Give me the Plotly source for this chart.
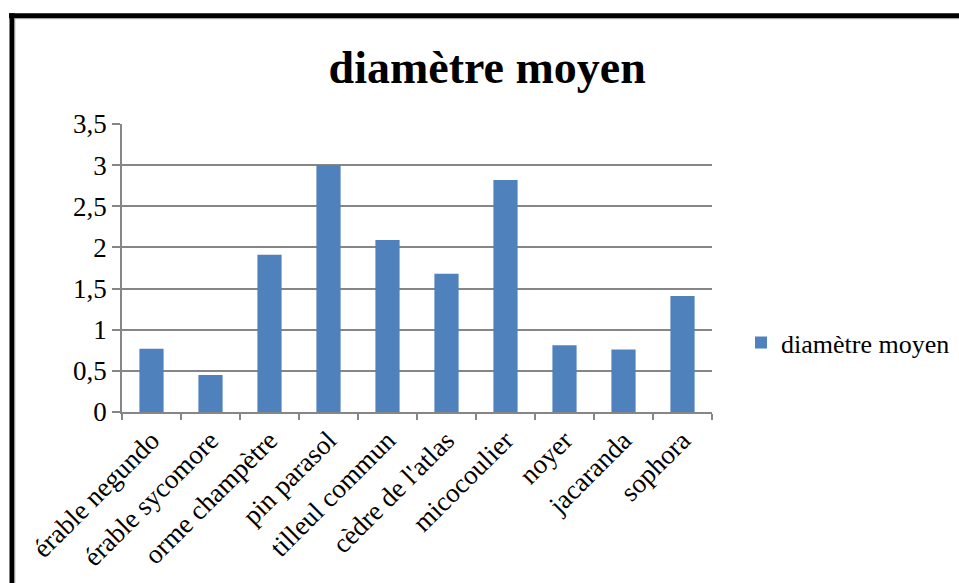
import plotly.graph_objects as go

categories = ["érable negundo", "érable sycomore", "orme champètre", "pin parasol",
              "tilleul commun", "cèdre de l'atlas", "micocoulier", "noyer",
              "jacaranda", "sophora"]
values = [0.77, 0.45, 1.91, 3.0, 2.09, 1.68, 2.82, 0.81, 0.76, 1.41]
series_name = "diamètre moyen"
y_tickvals = [0, 0.5, 1, 1.5, 2, 2.5, 3, 3.5]
y_ticktext = ["0", "0,5", "1", "1,5", "2", "2,5", "3", "3,5"]

W, H = 959, 583
L, R, T, B = 122, 712, 124, 412.5
pw, ph = R - L, B - T

def px_x(p):
    return (p - L) / pw

def px_y(p):
    return (B - p) / ph

FONT = "Liberation Serif, serif"
GRID = "#868686"

fig = go.Figure()
fig.add_trace(go.Bar(x=categories, y=values, name=series_name,
                     marker=dict(color="#4F81BD", line=dict(width=0)),
                     showlegend=True))

fig.update_layout(
    width=W, height=H,
    margin=dict(l=L, r=W - R, t=T, b=H - B, pad=0, autoexpand=False),
    paper_bgcolor="white", plot_bgcolor="white",
    font=dict(family=FONT, size=27, color="black"),
    bargap=0.59,
    title=dict(text="<b>diamètre moyen</b>", x=0.508, xanchor="center",
               y=0.885, yanchor="middle", yref="container",
               font=dict(family=FONT, size=46, color="black")),
    showlegend=True,
    legend=dict(x=px_x(741), xanchor="left", y=px_y(343), yanchor="middle",
                font=dict(family=FONT, size=26, color="black"),
                bgcolor="rgba(0,0,0,0)", borderwidth=0),
    xaxis=dict(type="category", tickangle=-45, tickson="boundaries",
               ticks="outside", ticklen=6, tickcolor=GRID, tickwidth=1.5,
               showline=True, linecolor=GRID, linewidth=1.5,
               showgrid=False, tickfont=dict(family=FONT, size=27)),
    yaxis=dict(range=[0, 3.5], tickvals=y_tickvals, ticktext=y_ticktext,
               ticks="outside", ticklen=8, tickcolor=GRID, tickwidth=1.5,
               showline=True, linecolor=GRID, linewidth=1.5,
               showgrid=True, gridcolor=GRID, gridwidth=1.5,
               zeroline=False, tickfont=dict(family=FONT, size=27)),
)

# frame (thick black border top and left, as in reference)
shapes = [
    dict(type="line", xref="paper", yref="paper",
         x0=px_x(9), x1=px_x(965), y0=px_y(15.5), y1=px_y(15.5),
         line=dict(color="black", width=5)),
    dict(type="line", xref="paper", yref="paper",
         x0=px_x(12), x1=px_x(12), y0=px_y(13), y1=px_y(590),
         line=dict(color="black", width=5)),
    dict(type="line", xref="paper", yref="paper",
         x0=px_x(14.5), x1=px_x(965), y0=px_y(18.5), y1=px_y(18.5),
         line=dict(color="#A0A0A0", width=1)),
    dict(type="line", xref="paper", yref="paper",
         x0=px_x(14.8), x1=px_x(14.8), y0=px_y(18.5), y1=px_y(590),
         line=dict(color="#A0A0A0", width=1)),
]
fig.update_layout(shapes=shapes)

fig.write_html("out.html",
               config={"displayModeBar": False},
               post_script="document.body.style.margin='0';document.body.style.overflow='hidden';")
